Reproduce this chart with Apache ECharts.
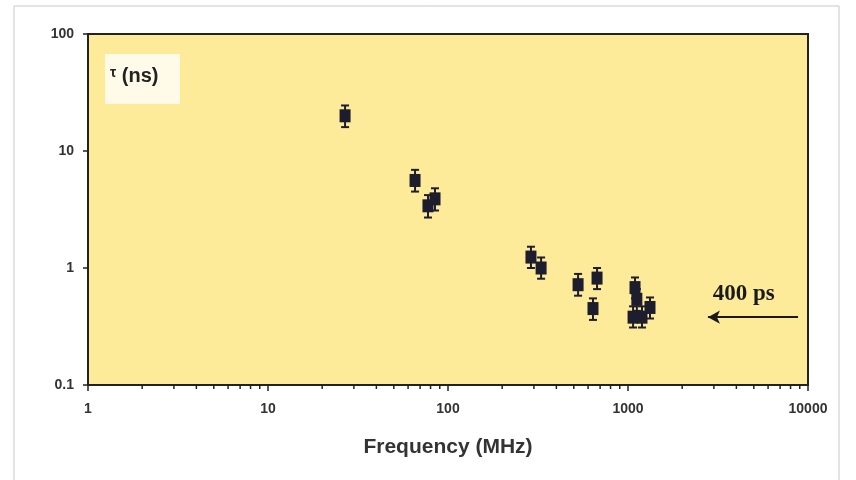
<!DOCTYPE html>
<html>
<head>
<meta charset="utf-8">
<script src="https://cdn.jsdelivr.net/npm/echarts@6/dist/echarts.min.js"></script>
<style>
  html, body { margin: 0; padding: 0; background: #fff; }
  #chart { width: 856px; height: 480px; }
</style>
</head>
<body>
<div id="chart"></div>
<script>
// frequency (MHz) and relaxation time tau (ns)
const freq = [26.8, 65.6, 77.4, 84.7, 289, 329, 528, 673, 639, 1094, 1120, 1325, 1067, 1196]
const tau = [20, 5.6, 3.4, 3.9, 1.24, 1.0, 0.72, 0.82, 0.45, 0.68, 0.54, 0.46, 0.38, 0.38]
const tauLow = [16, 4.5, 2.7, 3.1, 1.0, 0.81, 0.58, 0.66, 0.36, 0.55, 0.43, 0.37, 0.31, 0.31]
const tauHigh = [24.5, 6.9, 4.2, 4.8, 1.52, 1.23, 0.89, 1.0, 0.55, 0.83, 0.66, 0.56, 0.47, 0.47]

const xTicks = [1, 10, 100, 1000, 10000]
const yTicks = [0.1, 1, 10, 100]
const limitNs = 0.38 // "400 ps" arrow, as drawn

// minor ticks 2..9 in each decade
const xMinor = []
for (let d = 1; d < 10000; d *= 10) {
  for (let k = 2; k <= 9; k++) xMinor.push(d * k)
}

const INK = '#1d1d2e'
const chart = echarts.init(document.getElementById('chart'), null, { renderer: 'canvas' })

const option = {
  backgroundColor: '#fff',
  animation: false,
  grid: {
    left: 88, right: 48, top: 34, bottom: 95,
    show: true,
    backgroundColor: '#FDEB9A',
    borderColor: '#222',
    borderWidth: 2,
  },
  xAxis: {
    type: 'log',
    logBase: 10,
    min: xTicks[0],
    max: xTicks[xTicks.length - 1],
    name: 'Frequency (MHz)',
    nameLocation: 'middle',
    nameGap: 52,
    nameTextStyle: { fontFamily: 'Liberation Sans', fontWeight: 'bold', fontSize: 21, color: '#333' },
    axisLine: { lineStyle: { color: '#222', width: 2 } },
    axisTick: { length: 6, lineStyle: { color: '#222', width: 1.5 } },
    axisLabel: {
      fontFamily: 'Liberation Sans', fontWeight: 'bold', fontSize: 14, color: '#333', margin: 17,
      formatter: v => String(v),
    },
    splitLine: { show: false },
  },
  yAxis: {
    type: 'log',
    logBase: 10,
    min: yTicks[0],
    max: yTicks[yTicks.length - 1],
    axisLine: { lineStyle: { color: '#222', width: 2 } },
    axisTick: { length: 5, lineStyle: { color: '#222', width: 1.5 } },
    axisLabel: {
      fontFamily: 'Liberation Sans', fontWeight: 'bold', fontSize: 14, color: '#333', margin: 14,
      formatter: v => String(v),
    },
    splitLine: { show: false },
  },
  graphic: [
    {
      type: 'rect',
      shape: { x: 14, y: 6, width: 825, height: 490 },
      style: { fill: 'none', stroke: '#c8c8c8', lineWidth: 1 },
      z: 0,
    },
    {
      type: 'rect',
      shape: { x: 105, y: 54, width: 75, height: 50 },
      style: { fill: '#FFFBE8' },
      z: 5,
    },
    {
      type: 'text',
      left: 110, top: 66,
      style: {
        text: '{t|\u03c4} (ns)',
        font: 'bold 20px "Liberation Sans"',
        fill: '#222',
        rich: { t: { fontSize: 14, fontWeight: 'bold', verticalAlign: 'top', padding: [0, 0, 6, 0] } },
      },
      z: 6,
    },
  ],
  series: [
    {
      // minor ticks on the x axis
      type: 'custom',
      silent: true,
      clip: false,
      data: xMinor.map(v => [v, yTicks[0]]),
      encode: { x: 0, y: 1 },
      renderItem(params, api) {
        const p = api.coord([api.value(0), api.value(1)])
        return {
          type: 'line',
          shape: { x1: p[0], y1: p[1], x2: p[0], y2: p[1] + 4 },
          style: { stroke: '#222', lineWidth: 1.5 },
        }
      },
    },
    {
      // error bars
      type: 'custom',
      silent: true,
      data: freq.map((f, i) => [f, tauLow[i], tauHigh[i]]),
      encode: { x: 0, y: [1, 2] },
      renderItem(params, api) {
        const lo = api.coord([api.value(0), api.value(1)])
        const hi = api.coord([api.value(0), api.value(2)])
        const w = 4
        const s = { stroke: INK, lineWidth: 2 }
        return {
          type: 'group',
          children: [
            { type: 'line', shape: { x1: lo[0], y1: lo[1], x2: hi[0], y2: hi[1] }, style: s },
            { type: 'line', shape: { x1: lo[0] - w, y1: lo[1], x2: lo[0] + w, y2: lo[1] }, style: s },
            { type: 'line', shape: { x1: hi[0] - w, y1: hi[1], x2: hi[0] + w, y2: hi[1] }, style: s },
          ],
        }
      },
      z: 3,
    },
    {
      type: 'scatter',
      data: freq.map((f, i) => [f, tau[i]]),
      symbol: 'rect',
      symbolSize: [11, 13],
      itemStyle: { color: INK, opacity: 1 },
      z: 4,
      markLine: {
        silent: true,
        symbol: ['none', 'arrow'],
        symbolSize: [10, 12],
        lineStyle: { color: '#1a1a1a', width: 2, type: 'solid' },
        label: { show: false },
        data: [[{ coord: [8800, limitNs] }, { coord: [2780, limitNs] }]],
      },
      markPoint: {
        silent: true,
        symbol: 'circle',
        symbolSize: 0,
        label: {
          show: true,
          formatter: '400 ps',
          fontFamily: 'Liberation Serif',
          fontWeight: 'bold',
          fontSize: 23,
          color: '#1a1a1a',
        },
        data: [{ coord: [4400, 0.6] }],
      },
    },
  ],
}

chart.setOption(option)
</script>
</body>
</html>
